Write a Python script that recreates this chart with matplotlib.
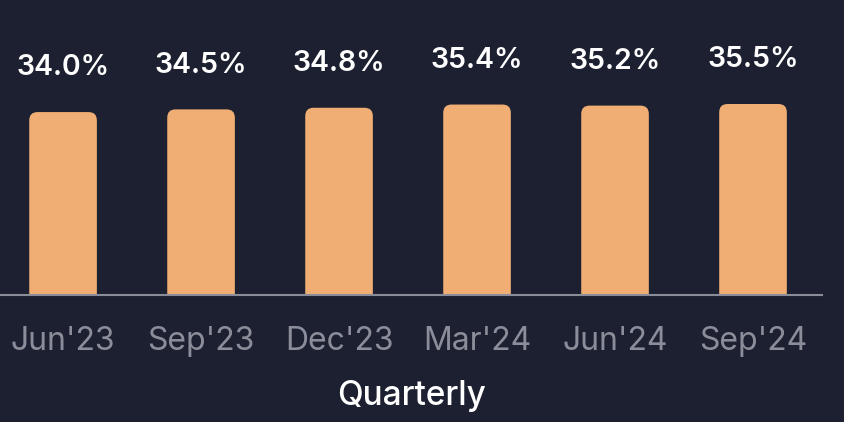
import matplotlib
matplotlib.use("Agg")
import matplotlib.pyplot as plt
from matplotlib.patches import FancyBboxPatch

quarters = ["Jun'23", "Sep'23", "Dec'23", "Mar'24", "Jun'24", "Sep'24"]
share_pct = [34.0, 34.5, 34.8, 35.4, 35.2, 35.5]

BG = "#1d2030"
BAR = "#f0ae74"
GRID = "#8a8d99"
TICK = "#8b8e9a"

plt.rcParams["font.family"] = ["Inter", "DejaVu Sans"]

fig = plt.figure(figsize=(8.45, 4.22), dpi=100, facecolor=BG)
ax = fig.add_axes([0.0, 0.301, 0.9728, 0.6374], facecolor=BG)

x = list(range(len(quarters)))
width = 0.49
ax.set_xlim(-0.457, 5.5)
ax.set_ylim(0, 50)

# rounded top corners; bottom corners pushed below the axis and clipped
aspect = (269 / 50) ** -1 * 138
for xi, v in zip(x, share_pct):
    patch = FancyBboxPatch(
        (xi - width / 2, -5), width, v + 5,
        boxstyle="round,pad=0,rounding_size=0.06",
        mutation_aspect=aspect,
        facecolor=BAR, edgecolor="none", clip_on=True,
    )
    ax.add_patch(patch)
    ax.text(xi, v + 8.2, f"{v:.1f}%", ha="center", va="center",
            color="white", fontsize=20.5, fontweight="semibold")

for side in ["top", "right", "left"]:
    ax.spines[side].set_visible(False)
ax.spines["bottom"].set_color(GRID)
ax.spines["bottom"].set_linewidth(1.5)

ax.set_yticks([])
ax.set_xticks(x)
ax.set_xticklabels(quarters)
ax.tick_params(axis="x", length=0, pad=22, labelsize=23, labelcolor=TICK)
ax.set_xlabel("Quarterly", color="white", fontsize=24, fontweight="medium",
              labelpad=17)

fig.savefig("out.png", dpi=100, facecolor=BG)
